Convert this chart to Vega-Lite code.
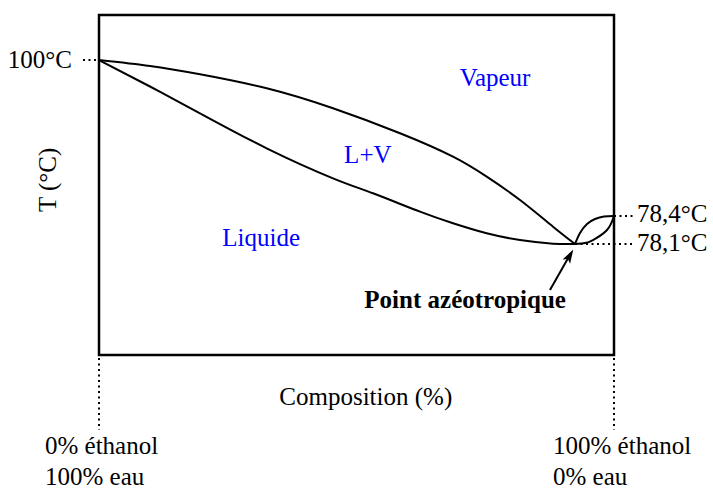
{
  "$schema": "https://vega.github.io/schema/vega-lite/v6.json",
  "width": 515,
  "height": 340,
  "autosize": {"type": "none"},
  "padding": {"left": 99, "top": 15, "right": 99, "bottom": 135},
  "background": "white",
  "config": {
    "view": {"stroke": "black", "strokeWidth": 2.5},
    "text": {"font": "Liberation Serif", "fontSize": 25}
  },
  "datasets": {
    "curves": [
      {"s": "liq", "c": 0, "v": 86.76},
      {"s": "liq", "c": 9.9, "v": 78.97},
      {"s": "liq", "c": 19.61, "v": 71.09},
      {"s": "liq", "c": 32.56, "v": 60.79},
      {"s": "liq", "c": 45.44, "v": 51.97},
      {"s": "liq", "c": 53.2, "v": 47.56},
      {"s": "liq", "c": 62.33, "v": 42.15},
      {"s": "liq", "c": 68.74, "v": 38.74},
      {"s": "liq", "c": 75.28, "v": 35.79},
      {"s": "liq", "c": 81.75, "v": 33.82},
      {"s": "liq", "c": 88.16, "v": 32.75},
      {"s": "liq", "c": 92.43, "v": 32.65},
      {"s": "vap", "c": 0, "v": 86.76},
      {"s": "vap", "c": 9.9, "v": 85.0},
      {"s": "vap", "c": 19.61, "v": 82.56},
      {"s": "vap", "c": 32.56, "v": 78.44},
      {"s": "vap", "c": 45.44, "v": 72.56},
      {"s": "vap", "c": 58.45, "v": 65.21},
      {"s": "vap", "c": 68.74, "v": 58.32},
      {"s": "vap", "c": 75.28, "v": 52.44},
      {"s": "vap", "c": 81.75, "v": 45.59},
      {"s": "vap", "c": 88.16, "v": 37.74},
      {"s": "vap", "c": 92.43, "v": 32.65},
      {"s": "top", "c": 92.43, "v": 32.65},
      {"s": "top", "c": 93.4, "v": 35.88},
      {"s": "top", "c": 94.76, "v": 38.53},
      {"s": "top", "c": 96.31, "v": 40.0},
      {"s": "top", "c": 98.06, "v": 40.74},
      {"s": "top", "c": 100, "v": 40.88},
      {"s": "bot", "c": 92.43, "v": 32.65},
      {"s": "bot", "c": 94.37, "v": 32.94},
      {"s": "bot", "c": 95.92, "v": 33.82},
      {"s": "bot", "c": 98.64, "v": 36.76},
      {"s": "bot", "c": 100, "v": 40.88}
    ],
    "dots": [
      {"c": -3.11, "v": 86.76, "c2": 0, "v2": 86.76},
      {"c": 100, "v": 40.88, "c2": 103.69, "v2": 40.88},
      {"c": 92.43, "v": 32.65, "c2": 103.69, "v2": 32.65},
      {"c": 0, "v": -0.9, "c2": 0, "v2": -22.06},
      {"c": 100, "v": -0.9, "c2": 100, "v2": -22.06}
    ],
    "arrow": [
      {"c": 87.57, "v": 19.12, "c2": 91.65, "v2": 30.0}
    ],
    "head": [
      {"c": 91.42, "v": 29.24}
    ],
    "blue": [
      {"t": "Vapeur", "c": 76.9, "v": 81.5},
      {"t": "L+V", "c": 52.2, "v": 58.8},
      {"t": "Liquide", "c": 31.5, "v": 34.4}
    ],
    "center": [
      {"t": "Composition (%)", "c": 51.8, "v": -12.35}
    ],
    "bold": [
      {"t": "Point azéotropique", "c": 71.1, "v": 16.2}
    ],
    "left": [
      {"t": "78,4°C", "c": 104.47, "v": 41.47},
      {"t": "78,1°C", "c": 104.47, "v": 32.94},
      {"t": "0% éthanol", "c": -10.49, "v": -26.76},
      {"t": "100% eau", "c": -10.49, "v": -35.88},
      {"t": "100% éthanol", "c": 88.16, "v": -26.76},
      {"t": "0% eau", "c": 88.16, "v": -35.88}
    ],
    "right": [
      {"t": "100°C", "c": -5.24, "v": 86.76}
    ],
    "rot": [
      {"t": "T (°C)", "c": -9.9, "v": 51.5}
    ]
  },
  "encoding": {
    "x": {"field": "c", "type": "quantitative", "scale": {"domain": [0, 100], "nice": false, "zero": false}, "axis": null},
    "y": {"field": "v", "type": "quantitative", "scale": {"domain": [0, 100], "nice": false, "zero": false}, "axis": null}
  },
  "layer": [
    {
      "data": {"name": "curves"},
      "mark": {"type": "line", "interpolate": "natural", "color": "black", "strokeWidth": 2, "clip": false},
      "encoding": {
        "detail": {"field": "s"},
        "order": {"field": "c", "type": "quantitative"}
      }
    },
    {
      "data": {"name": "dots"},
      "mark": {"type": "rule", "color": "black", "strokeWidth": 2, "strokeDash": [2, 3.5]},
      "encoding": {
        "x2": {"field": "c2"},
        "y2": {"field": "v2"}
      }
    },
    {
      "data": {"name": "arrow"},
      "mark": {"type": "rule", "color": "black", "strokeWidth": 2},
      "encoding": {
        "x2": {"field": "c2"},
        "y2": {"field": "v2"}
      }
    },
    {
      "data": {"name": "head"},
      "mark": {"type": "point", "shape": "M0,-1L0.62,1L0,0.55L-0.62,1Z", "filled": true, "color": "black", "opacity": 1, "size": 196, "angle": 30}
    },
    {
      "data": {"name": "blue"},
      "mark": {"type": "text", "color": "#0000ff", "align": "center", "baseline": "middle"},
      "encoding": {"text": {"field": "t"}}
    },
    {
      "data": {"name": "center"},
      "mark": {"type": "text", "color": "black", "align": "center", "baseline": "middle"},
      "encoding": {"text": {"field": "t"}}
    },
    {
      "data": {"name": "bold"},
      "mark": {"type": "text", "color": "black", "align": "center", "baseline": "middle", "fontWeight": "bold"},
      "encoding": {"text": {"field": "t"}}
    },
    {
      "data": {"name": "left"},
      "mark": {"type": "text", "color": "black", "align": "left", "baseline": "middle"},
      "encoding": {"text": {"field": "t"}}
    },
    {
      "data": {"name": "right"},
      "mark": {"type": "text", "color": "black", "align": "right", "baseline": "middle"},
      "encoding": {"text": {"field": "t"}}
    },
    {
      "data": {"name": "rot"},
      "mark": {"type": "text", "color": "black", "align": "center", "baseline": "middle", "angle": 270},
      "encoding": {"text": {"field": "t"}}
    }
  ]
}
